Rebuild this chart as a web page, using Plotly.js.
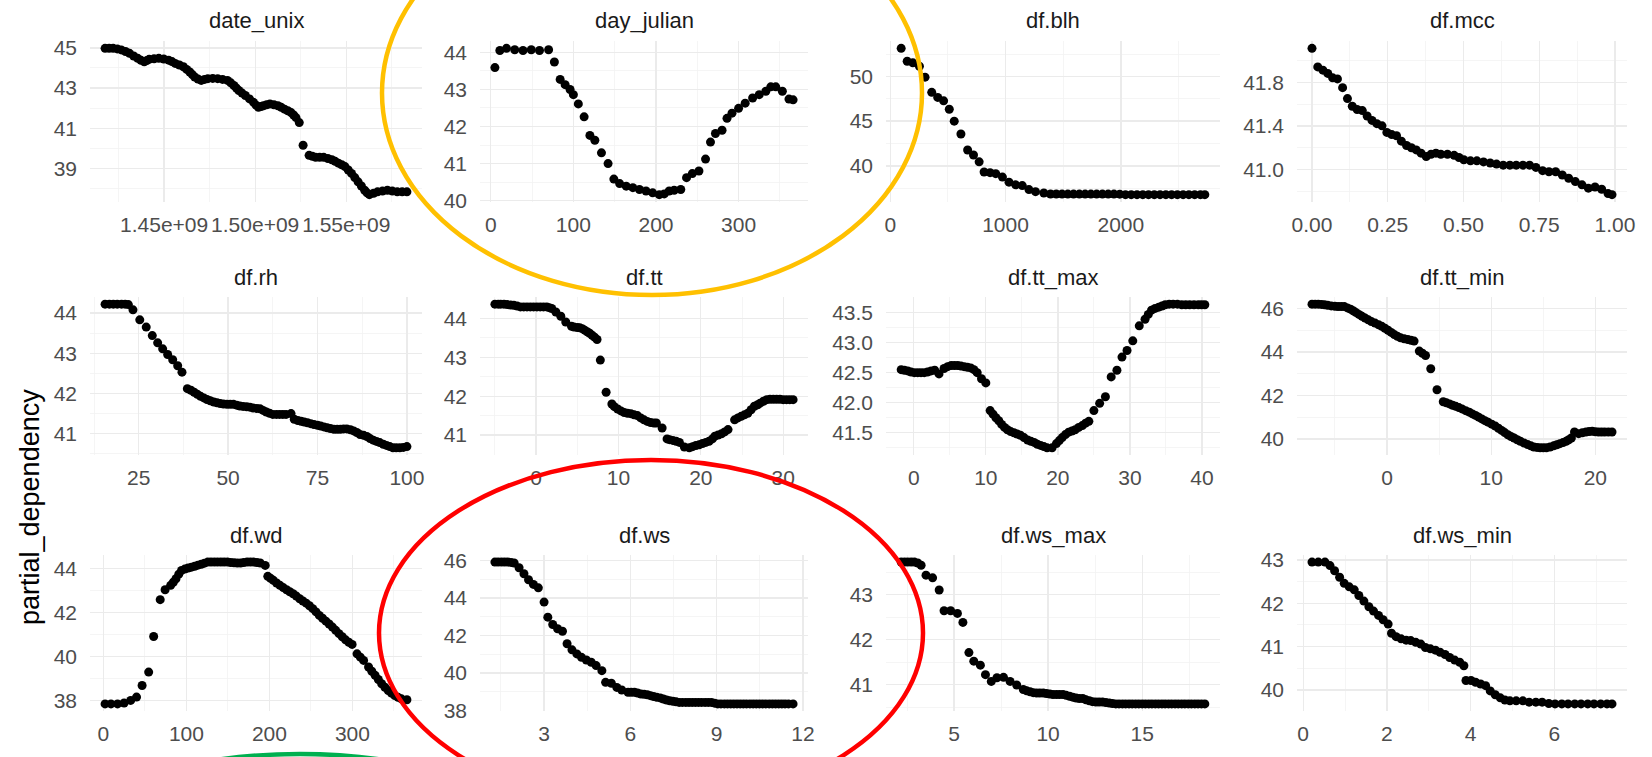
<!DOCTYPE html>
<html><head><meta charset="utf-8">
<script src="https://cdn.plot.ly/plotly-3.0.1.min.js"></script>
<style>html,body{margin:0;padding:0;background:#fff}#chart{width:1652px;height:757px}</style>
</head><body><div id="chart"></div>
<script>
// ---------------- data ----------------
const panelNames = ["date_unix","day_julian","df.blh","df.mcc","df.rh","df.tt","df.tt_max","df.tt_min","df.wd","df.ws","df.ws_max","df.ws_min"];

const dateUnixX = [1.4176e9,1.4198e9,1.4220e9,1.4243e9,1.4265e9,1.4288e9,1.4310e9,1.4333e9,1.4355e9,1.4373e9,1.4391e9,1.4405e9,1.4418e9,1.4445e9,1.4471e9,1.4498e9,1.4525e9,1.4543e9,1.4561e9,1.4584e9,1.4606e9,1.4624e9,1.4641e9,1.4655e9,1.4668e9,1.4686e9,1.4704e9,1.4722e9,1.4740e9,1.4767e9,1.4794e9,1.4821e9,1.4848e9,1.4866e9,1.4883e9,1.4897e9,1.4910e9,1.4928e9,1.4946e9,1.4969e9,1.4991e9,1.5005e9,1.5018e9,1.5032e9,1.5045e9,1.5063e9,1.5081e9,1.5103e9,1.5125e9,1.5143e9,1.5161e9,1.5179e9,1.5197e9,1.5211e9,1.5224e9,1.5242e9,1.5263e9,1.5296e9,1.5314e9,1.5332e9,1.5354e9,1.5376e9,1.5399e9,1.5421e9,1.5439e9,1.5457e9,1.5475e9,1.5493e9,1.5511e9,1.5529e9,1.5547e9,1.5565e9,1.5583e9,1.5601e9,1.5614e9,1.5627e9,1.5650e9,1.5672e9,1.5699e9,1.5726e9,1.5753e9,1.5780e9,1.5807e9,1.5833e9];
const dateUnixY = [44.98,44.98,44.98,44.95,44.90,44.82,44.73,44.60,44.48,44.38,44.31,44.37,44.43,44.46,44.48,44.45,44.39,44.32,44.23,44.15,44.06,43.93,43.80,43.67,43.55,43.45,43.38,43.43,43.47,43.48,43.47,43.43,43.38,43.26,43.13,43.00,42.88,42.75,42.63,42.46,42.29,42.15,42.04,42.08,42.12,42.17,42.21,42.17,42.12,42.04,41.95,41.87,41.78,41.66,41.53,41.28,40.15,39.65,39.60,39.55,39.55,39.55,39.49,39.43,39.35,39.26,39.18,39.09,38.92,38.75,38.54,38.33,38.12,37.91,37.78,37.69,37.76,37.83,37.87,37.91,37.87,37.83,37.83,37.83];

const dayJulianX = [5,11,19,29,39,49,59,70,77,84,90,96,100,106,113,120,126,134,142,149,156,164,172,180,188,196,204,210,216,222,230,237,244,252,260,266,272,280,286,292,300,308,317,325,333,339,345,353,361,366];
const dayJulianY = [43.59,44.05,44.11,44.07,44.05,44.07,44.05,44.07,43.74,43.27,43.13,43.00,42.86,42.61,42.26,41.76,41.63,41.29,41.00,40.58,40.46,40.39,40.35,40.30,40.26,40.21,40.16,40.18,40.26,40.28,40.30,40.62,40.73,40.80,41.12,41.58,41.81,41.90,42.22,42.36,42.49,42.63,42.77,42.86,42.95,43.07,43.07,42.95,42.74,42.72];

const blhX = [95,147,196,253,302,360,412,463,512,555,613,671,722,771,814,866,915,973,1030,1088,1145,1203,1260,1332,1390,1440,1490,1540,1590,1640,1690,1740,1790,1840,1890,1940,1990,2040,2090,2140,2190,2240,2290,2340,2390,2440,2490,2540,2590,2640,2690,2728];
const blhY = [53.14,51.70,51.52,51.14,49.92,48.22,47.65,47.27,46.33,45.00,43.56,41.78,41.21,40.45,39.32,39.24,39.13,38.75,38.18,37.88,37.80,37.35,37.12,36.97,36.86,36.86,36.85,36.85,36.85,36.85,36.85,36.85,36.85,36.85,36.85,36.85,36.84,36.78,36.78,36.78,36.78,36.78,36.78,36.78,36.78,36.78,36.78,36.78,36.78,36.78,36.78,36.78];

const mccX = [0.000,0.019,0.036,0.052,0.068,0.084,0.101,0.117,0.133,0.149,0.166,0.182,0.198,0.214,0.231,0.247,0.263,0.279,0.295,0.312,0.328,0.344,0.360,0.377,0.393,0.409,0.425,0.447,0.469,0.485,0.501,0.523,0.544,0.566,0.588,0.609,0.631,0.653,0.674,0.696,0.718,0.739,0.761,0.782,0.804,0.826,0.847,0.869,0.891,0.912,0.934,0.956,0.977,0.990];
const mccY = [42.11,41.94,41.91,41.88,41.84,41.83,41.75,41.65,41.58,41.55,41.54,41.49,41.45,41.42,41.40,41.34,41.32,41.31,41.26,41.22,41.20,41.18,41.15,41.12,41.14,41.15,41.14,41.14,41.13,41.11,41.09,41.08,41.08,41.07,41.06,41.05,41.04,41.04,41.04,41.04,41.04,41.02,40.99,40.98,40.98,40.95,40.92,40.89,40.86,40.83,40.84,40.82,40.78,40.77];

const rhX = [15.6,16.8,17.9,19.0,20.2,21.2,22.1,23.4,25.3,27.1,28.8,30.3,31.7,33.1,34.5,35.9,37.1,38.6,39.6,40.5,41.4,42.3,43.2,44.1,45.0,46.0,46.9,47.8,48.7,49.7,50.6,51.5,52.4,53.3,54.2,55.2,56.1,57.0,58.0,58.9,59.8,60.7,61.6,62.5,63.5,64.4,65.3,66.2,67.6,68.5,69.5,70.4,71.3,72.2,73.1,74.0,75.0,75.9,76.8,77.7,78.6,79.6,80.5,81.4,82.3,83.2,84.2,85.1,86.0,86.9,87.9,88.8,89.7,90.6,91.5,92.4,93.4,94.3,95.2,96.1,97.0,98.0,99.0,100.0];
const rhY = [44.22,44.22,44.22,44.22,44.22,44.22,44.21,44.08,43.83,43.65,43.44,43.26,43.11,42.97,42.84,42.69,42.53,42.12,42.08,42.03,41.98,41.93,41.89,41.85,41.82,41.79,41.77,41.75,41.74,41.73,41.73,41.73,41.71,41.69,41.68,41.67,41.66,41.64,41.63,41.62,41.58,41.54,41.51,41.48,41.48,41.48,41.48,41.48,41.50,41.36,41.33,41.31,41.29,41.27,41.25,41.23,41.21,41.19,41.17,41.15,41.13,41.11,41.11,41.11,41.12,41.12,41.10,41.07,41.03,40.98,40.96,40.93,40.88,40.84,40.81,40.78,40.74,40.71,40.68,40.65,40.65,40.65,40.66,40.68];

const ttX = [-5.0,-4.6,-4.3,-3.9,-3.5,-3.1,-2.7,-2.3,-1.9,-1.5,-1.1,-0.7,-0.3,0.1,0.5,0.9,1.3,1.6,1.9,2.4,3.0,3.6,4.3,4.6,5.0,5.3,5.6,5.9,6.2,6.5,6.8,7.1,7.4,7.8,8.5,9.2,9.5,9.9,10.3,10.7,11.1,11.5,11.9,12.3,12.7,13.1,13.5,13.9,14.3,14.6,15.3,15.9,16.2,16.6,17.0,17.4,18.0,18.6,19.0,19.4,19.8,20.2,20.6,21.0,21.4,21.7,22.1,22.5,22.9,23.3,24.1,24.5,24.9,25.3,25.7,26.1,26.5,26.9,27.2,27.6,28.0,28.4,28.8,29.2,29.6,30.0,30.4,30.8,31.2];
const ttY = [44.37,44.37,44.37,44.37,44.36,44.35,44.34,44.32,44.30,44.30,44.30,44.30,44.30,44.30,44.30,44.30,44.30,44.28,44.26,44.17,44.06,43.91,43.80,43.78,43.77,43.76,43.74,43.70,43.66,43.62,43.57,43.52,43.46,42.93,42.10,41.80,41.73,41.67,41.62,41.58,41.56,41.55,41.52,41.50,41.44,41.39,41.35,41.32,41.31,41.31,41.18,40.90,40.88,40.86,40.84,40.81,40.69,40.67,40.70,40.73,40.75,40.78,40.81,40.84,40.90,40.97,41.00,41.03,41.08,41.14,41.39,41.44,41.48,41.52,41.56,41.65,41.74,41.78,41.82,41.87,41.91,41.92,41.92,41.92,41.92,41.91,41.91,41.91,41.91];

const ttMaxX = [-1.75,-1.3,-0.83,-0.37,0.09,0.55,1.0,1.45,1.9,2.4,2.9,3.5,4.2,4.7,5.2,5.65,6.1,6.55,7.0,7.45,7.9,8.35,8.8,9.4,10.0,10.6,11.0,11.4,11.8,12.2,12.6,13.0,13.45,13.9,14.35,14.8,15.3,15.8,16.25,16.7,17.15,17.6,18.05,18.5,19.2,19.8,20.2,20.6,21.05,21.5,21.95,22.4,22.9,23.4,23.85,24.3,25.0,25.8,26.6,27.4,28.2,28.9,29.6,30.4,31.3,32.1,32.55,33.0,33.5,34.0,34.45,34.9,35.45,36.0,36.6,37.2,37.75,38.3,38.9,39.5,39.95,40.4];
const ttMaxY = [42.55,42.54,42.53,42.51,42.50,42.50,42.50,42.50,42.51,42.53,42.54,42.48,42.57,42.60,42.62,42.62,42.62,42.61,42.60,42.59,42.58,42.55,42.50,42.40,42.33,41.87,41.81,41.75,41.70,41.64,41.59,41.55,41.52,41.50,41.48,41.46,41.42,41.38,41.36,41.34,41.31,41.29,41.27,41.25,41.25,41.32,41.37,41.42,41.47,41.51,41.53,41.55,41.59,41.62,41.66,41.69,41.87,41.99,42.10,42.43,42.54,42.76,42.87,43.03,43.28,43.39,43.47,43.54,43.57,43.59,43.61,43.63,43.64,43.64,43.64,43.63,43.63,43.63,43.63,43.63,43.63,43.63];

const ttMinX = [-7.2,-6.9,-6.6,-6.3,-6.0,-5.7,-5.35,-5.0,-4.7,-4.4,-4.1,-3.8,-3.5,-3.25,-3.0,-2.7,-2.4,-2.1,-1.8,-1.5,-1.15,-0.8,-0.5,-0.2,0.1,0.4,0.7,1.0,1.3,1.65,2.0,2.3,2.6,3.1,3.4,3.7,4.2,4.8,5.4,5.7,6.0,6.3,6.6,6.9,7.2,7.55,7.9,8.2,8.5,8.8,9.1,9.4,9.7,10.05,10.4,10.7,11.0,11.3,11.6,11.9,12.2,12.5,12.8,13.15,13.5,13.8,14.1,14.4,14.7,15.0,15.3,15.65,16.0,16.3,16.6,16.9,17.2,17.45,17.7,18.0,18.4,18.75,19.1,19.4,19.7,20.0,20.3,20.6,20.9,21.25,21.6];
const ttMinY = [46.20,46.20,46.20,46.19,46.17,46.15,46.12,46.10,46.09,46.09,46.09,46.03,45.97,45.90,45.82,45.73,45.64,45.56,45.48,45.40,45.33,45.25,45.18,45.09,45.00,44.90,44.80,44.72,44.65,44.61,44.57,44.54,44.50,44.04,43.94,43.84,43.23,42.26,41.71,41.66,41.61,41.55,41.50,41.44,41.38,41.30,41.23,41.15,41.08,41.00,40.92,40.84,40.77,40.68,40.59,40.49,40.39,40.29,40.19,40.11,40.04,39.96,39.89,39.81,39.74,39.68,39.63,39.61,39.59,39.59,39.59,39.63,39.68,39.73,39.78,39.83,39.89,39.96,40.04,40.32,40.24,40.28,40.32,40.34,40.35,40.33,40.32,40.32,40.32,40.32,40.32];

const wdX = [2.0,9.1,17.0,24.9,32.8,39.9,46.6,54.5,60.5,68.4,74.3,81.0,84.2,87.4,90.8,94.1,98.0,102.0,106.0,109.9,113.8,117.8,121.7,125.7,129.6,133.6,137.5,141.5,145.4,149.4,153.3,157.3,161.2,165.2,169.1,173.1,177.0,181.0,184.9,188.9,194.9,198.0,201.3,204.7,208.6,212.6,216.6,220.6,224.5,228.5,232.4,236.4,240.3,244.3,248.2,252.2,256.1,260.1,264.0,268.0,271.9,275.9,279.8,283.8,287.7,291.7,295.6,299.6,305.5,309.5,313.4,319.4,323.3,327.3,331.2,335.2,339.1,343.1,347.0,351.0,354.9,358.9,365.6];
const wdY = [37.84,37.84,37.84,37.88,38.00,38.15,38.68,39.29,40.91,42.59,43.04,43.24,43.38,43.54,43.75,43.92,43.98,44.03,44.07,44.11,44.16,44.20,44.25,44.30,44.30,44.30,44.30,44.30,44.30,44.30,44.28,44.27,44.26,44.26,44.28,44.30,44.30,44.30,44.28,44.26,44.15,43.65,43.56,43.47,43.35,43.24,43.14,43.04,42.95,42.86,42.75,42.63,42.53,42.43,42.31,42.18,42.03,41.87,41.74,41.61,41.48,41.34,41.19,41.04,40.90,40.76,40.65,40.55,40.12,39.97,39.82,39.52,39.33,39.14,38.95,38.76,38.60,38.45,38.33,38.22,38.14,38.07,38.03];

const wsX = [1.29,1.40,1.52,1.63,1.74,1.85,1.96,2.13,2.30,2.46,2.63,2.80,3.00,3.13,3.30,3.47,3.64,3.80,3.97,4.14,4.30,4.47,4.64,4.81,5.01,5.14,5.34,5.53,5.70,5.92,6.03,6.14,6.25,6.37,6.48,6.59,6.70,6.81,6.92,7.04,7.15,7.26,7.37,7.48,7.59,7.70,7.81,7.93,8.04,8.15,8.26,8.37,8.48,8.60,8.71,8.82,8.93,9.04,9.15,9.27,9.38,9.49,9.60,9.71,9.82,9.93,10.04,10.16,10.27,10.38,10.49,10.60,10.71,10.83,10.94,11.05,11.16,11.27,11.38,11.50,11.66];
const wsY = [45.91,45.91,45.91,45.91,45.91,45.89,45.86,45.61,45.29,44.97,44.72,44.54,43.78,42.98,42.59,42.36,42.23,41.56,41.24,41.02,40.84,40.70,40.58,40.40,40.13,39.51,39.46,39.24,39.10,38.98,38.98,38.98,38.94,38.89,38.87,38.85,38.80,38.75,38.71,38.68,38.62,38.57,38.53,38.50,38.47,38.44,38.44,38.44,38.44,38.44,38.44,38.44,38.44,38.44,38.44,38.44,38.40,38.36,38.36,38.36,38.36,38.36,38.36,38.36,38.36,38.36,38.36,38.36,38.36,38.36,38.36,38.36,38.36,38.36,38.36,38.36,38.36,38.36,38.36,38.36,38.36];

const wsMaxX = [2.19,2.37,2.54,2.72,2.89,3.07,3.25,3.51,3.86,4.21,4.47,4.82,5.18,5.47,5.79,6.05,6.40,6.67,6.98,7.28,7.63,7.98,8.33,8.68,8.86,9.04,9.21,9.39,9.56,9.74,9.91,10.09,10.26,10.44,10.61,10.79,10.96,11.14,11.31,11.49,11.66,11.84,12.01,12.19,12.36,12.54,12.71,12.89,13.07,13.25,13.42,13.60,13.77,13.95,14.12,14.30,14.47,14.65,14.82,15.00,15.17,15.35,15.52,15.70,15.87,16.05,16.22,16.40,16.57,16.75,16.92,17.10,17.27,17.45,17.62,17.80,17.97,18.15,18.33];
const wsMaxY = [43.72,43.72,43.72,43.72,43.72,43.70,43.65,43.43,43.37,43.10,42.64,42.64,42.58,42.38,41.71,41.52,41.43,41.22,41.07,41.15,41.16,41.07,40.99,40.89,40.86,40.84,40.82,40.81,40.81,40.81,40.80,40.79,40.78,40.78,40.78,40.78,40.76,40.74,40.72,40.70,40.69,40.69,40.66,40.64,40.62,40.61,40.61,40.61,40.60,40.59,40.58,40.57,40.57,40.57,40.57,40.57,40.57,40.57,40.57,40.57,40.57,40.57,40.57,40.57,40.57,40.57,40.57,40.57,40.57,40.57,40.57,40.57,40.57,40.57,40.57,40.57,40.57,40.57,40.57];

const wsMinX = [0.21,0.36,0.52,0.64,0.75,0.87,0.98,1.10,1.22,1.33,1.45,1.57,1.68,1.80,1.91,2.03,2.11,2.22,2.34,2.46,2.57,2.69,2.81,2.92,3.04,3.16,3.27,3.39,3.50,3.62,3.74,3.84,3.89,4.01,4.12,4.24,4.36,4.47,4.59,4.71,4.82,4.94,5.09,5.25,5.40,5.56,5.71,5.87,6.02,6.18,6.33,6.49,6.64,6.80,6.95,7.11,7.26,7.38];
const wsMinY = [42.95,42.95,42.95,42.87,42.75,42.60,42.46,42.38,42.31,42.18,42.05,41.92,41.82,41.72,41.62,41.52,41.31,41.23,41.18,41.15,41.14,41.10,41.06,40.98,40.95,40.92,40.87,40.82,40.75,40.69,40.64,40.56,40.22,40.22,40.18,40.14,40.10,39.98,39.89,39.82,39.77,39.75,39.75,39.75,39.72,39.72,39.72,39.69,39.68,39.68,39.68,39.68,39.68,39.68,39.68,39.68,39.68,39.68];

// tick values / labels per panel
const xTickVals = [[1.45e9,1.50e9,1.55e9],[0,100,200,300],[0,1000,2000],[0,0.25,0.5,0.75,1],[25,50,75,100],[0,10,20,30],[0,10,20,30,40],[0,10,20],[0,100,200,300],[3,6,9,12],[5,10,15],[0,2,4,6]];
const xTickText = [["1.45e+09","1.50e+09","1.55e+09"],["0","100","200","300"],["0","1000","2000"],["0.00","0.25","0.50","0.75","1.00"],["25","50","75","100"],["0","10","20","30"],["0","10","20","30","40"],["0","10","20"],["0","100","200","300"],["3","6","9","12"],["5","10","15"],["0","2","4","6"]];
const yTickVals = [[39,41,43,45],[40,41,42,43,44],[40,45,50],[41.0,41.4,41.8],[41,42,43,44],[41,42,43,44],[41.5,42.0,42.5,43.0,43.5],[40,42,44,46],[38,40,42,44],[38,40,42,44,46],[41,42,43],[40,41,42,43]];
const yTickText = [["39","41","43","45"],["40","41","42","43","44"],["40","45","50"],["41.0","41.4","41.8"],["41","42","43","44"],["41","42","43","44"],["41.5","42.0","42.5","43.0","43.5"],["40","42","44","46"],["38","40","42","44"],["38","40","42","44","46"],["41","42","43"],["40","41","42","43"]];
const xMinorVals = [[1.425e9,1.475e9,1.525e9,1.575e9],[50,150,250,350],[500,1500,2500],[0.125,0.375,0.625,0.875],[12.5,37.5,62.5,87.5],[-5,5,15,25],[5,15,25,35],[-5,5,15],[50,150,250,350],[1.5,4.5,7.5,10.5],[2.5,7.5,12.5,17.5],[1,3,5,7]];
const yMinorVals = [[38,40,42,44],[40.5,41.5,42.5,43.5],[37.5,42.5,47.5,52.5],[40.8,41.2,41.6,42.0],[40.5,41.5,42.5,43.5],[40.5,41.5,42.5,43.5],[41.25,41.75,42.25,42.75,43.25],[39,41,43,45],[37,39,41,43],[39,41,43,45],[40.5,41.5,42.5,43.5],[39.5,40.5,41.5,42.5]];

const xData = [dateUnixX,dayJulianX,blhX,mccX,rhX,ttX,ttMaxX,ttMinX,wdX,wsX,wsMaxX,wsMinX];
const yData = [dateUnixY,dayJulianY,blhY,mccY,rhY,ttY,ttMaxY,ttMinY,wdY,wsY,wsMaxY,wsMinY];

// ---------------- layout ----------------
const W = 1652, H = 757;
const colL = [90,480,886,1297], colR = [422,808,1220,1627];
const rowT = [41,297,555], rowB = [202,455,711];
const FONT = '"Liberation Sans", Arial, sans-serif';

function padRange(a){
  const lo = Math.min(...a), hi = Math.max(...a), s = hi - lo;
  return [lo - 0.05*s, hi + 0.05*s];
}

const traces = [];
const layout = {
  width: W, height: H,
  margin: {l:0, r:0, t:0, b:0},
  paper_bgcolor: '#ffffff', plot_bgcolor: '#ffffff',
  showlegend: false, hovermode: false,
  annotations: [], shapes: []
};

for (let i = 0; i < 12; i++) {
  const r = Math.floor(i/4), c = i % 4, n = i + 1;
  const xa = n === 1 ? 'x' : 'x' + n, ya = n === 1 ? 'y' : 'y' + n;
  traces.push({
    type: 'scatter', mode: 'markers',
    x: xData[i], y: yData[i], xaxis: xa, yaxis: ya,
    marker: {color: '#000000', size: 9},
    cliponaxis: false
  });
  const common = {
    showgrid: true, gridcolor: '#EBEBEB', gridwidth: 1.3,
    zeroline: false, showline: false, ticks: '',
    tickfont: {family: FONT, size: 21, color: '#4D4D4D'},
    tickmode: 'array', tickangle: 0, fixedrange: true
  };
  layout[n === 1 ? 'xaxis' : 'xaxis' + n] = Object.assign({}, common, {
    domain: [colL[c]/W, colR[c]/W], anchor: ya,
    range: padRange(xData[i]),
    tickvals: xTickVals[i], ticktext: xTickText[i],
    ticklabelstandoff: 8,
    minor: {tickvals: xMinorVals[i], showgrid: true, gridcolor: '#F2F2F2', gridwidth: 0.8, ticks: ''}
  });
  layout[n === 1 ? 'yaxis' : 'yaxis' + n] = Object.assign({}, common, {
    domain: [1 - rowB[r]/H, 1 - rowT[r]/H], anchor: xa,
    range: padRange(yData[i]),
    tickvals: yTickVals[i], ticktext: yTickText[i],
    ticklabelstandoff: 12,
    minor: {tickvals: yMinorVals[i], showgrid: true, gridcolor: '#F2F2F2', gridwidth: 0.8, ticks: ''}
  });
  layout.annotations.push({
    xref: 'paper', yref: 'paper',
    x: (colL[c] + colR[c]) / 2 / W, y: 1 - (rowT[r] - 20) / H,
    xanchor: 'center', yanchor: 'middle', showarrow: false,
    text: panelNames[i], font: {family: FONT, size: 22, color: '#1A1A1A'}
  });
}

layout.annotations.push({
  xref: 'paper', yref: 'paper', x: 30/W, y: 1 - 507/H,
  xanchor: 'center', yanchor: 'middle', showarrow: false, textangle: -90,
  text: 'partial_dependency', font: {family: FONT, size: 27, color: '#000000'}
});

// highlight ellipses (pixel boxes converted to paper fractions)
function ellipse(x0, y0, x1, y1, color) {
  return {type: 'circle', xref: 'paper', yref: 'paper', layer: 'above',
    x0: x0/W, x1: x1/W, y0: 1 - y1/H, y1: 1 - y0/H,
    line: {color: color, width: 4.5}, fillcolor: 'rgba(0,0,0,0)'};
}
layout.shapes.push(ellipse(382, -109, 922, 295, '#FFC000'));
layout.shapes.push(ellipse(379, 460, 923, 806, '#FF0000'));
layout.shapes.push(ellipse(0, 754, 600, 1054, '#00B050'));

Plotly.newPlot('chart', traces, layout, {displayModeBar: false, staticPlot: true});
</script>
</body></html>
